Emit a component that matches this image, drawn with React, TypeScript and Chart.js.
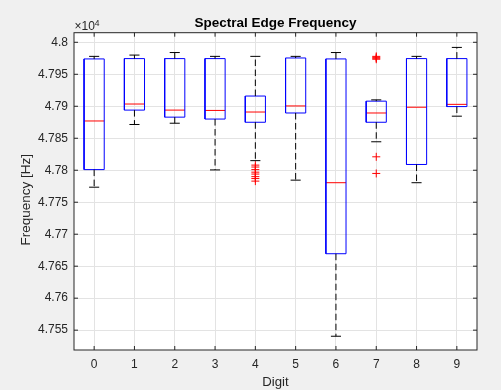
import React, { useEffect, useRef } from 'react';
import { Chart, registerables } from 'chart.js';

Chart.register(...registerables);

// ---- data ----
const digits = [0, 1, 2, 3, 4, 5, 6, 7, 8, 9];
const upperWhisker = [47978, 47980, 47984, 47978, 47978, 47978, 47984, 47910, 47978, 47992];
const q3 = [47974, 47974.5, 47974.5, 47974.5, 47916, 47975.5, 47974, 47908, 47974.5, 47974.5];
const medians = [47877, 47903.5, 47894, 47893.5, 47891, 47900.5, 47780.5, 47889.5, 47898.5, 47903];
const q1 = [47801, 47894, 47883, 47880, 47875, 47889.5, 47669.5, 47875, 47809, 47899.5];
const lowerWhisker = [47773.5, 47871.5, 47873.5, 47800.5, 47815, 47784.5, 47540.5, 47844.5, 47780.5, 47884.5];

const outlierDigit = [4, 4, 4, 4, 4, 4, 4, 4, 7, 7, 7, 7, 7, 7];
const outlierValue = [47808, 47805, 47801, 47797, 47794, 47790, 47787, 47783, 47978, 47976.5, 47975, 47973.5, 47821, 47795];

const yTickValues = [47550, 47600, 47650, 47700, 47750, 47800, 47850, 47900, 47950, 48000];
const yMin = 47519;
const yMax = 48015;

const titleText = 'Spectral Edge Frequency';
const xTitle = 'Digit';
const yTitle = 'Frequency [Hz]';

// ---- styling ----
const FONT = "'Liberation Sans', Arial, Helvetica, sans-serif";
const TEXT = '#262626';
const GRID = '#e3e3e3';
const BOX_HALF = 0.25;
const CAP_HALF = 0.125;

type P = { x: number; y: number | null };

function boxPoints(): P[] {
  const pts: P[] = [];
  digits.forEach((d, i) => {
    pts.push({ x: d - BOX_HALF, y: q1[i] }, { x: d + BOX_HALF, y: q1[i] }, { x: d + BOX_HALF, y: q3[i] },
      { x: d - BOX_HALF, y: q3[i] }, { x: d - BOX_HALF, y: q1[i] }, { x: d, y: null });
  });
  return pts;
}
function medianPoints(): P[] {
  const pts: P[] = [];
  digits.forEach((d, i) => {
    pts.push({ x: d - BOX_HALF, y: medians[i] }, { x: d + BOX_HALF, y: medians[i] }, { x: d, y: null });
  });
  return pts;
}
function whiskerPoints(): P[] {
  const pts: P[] = [];
  digits.forEach((d, i) => {
    pts.push({ x: d, y: q3[i] }, { x: d, y: upperWhisker[i] }, { x: d, y: null },
      { x: d, y: q1[i] }, { x: d, y: lowerWhisker[i] }, { x: d, y: null });
  });
  return pts;
}
function capPoints(): P[] {
  const pts: P[] = [];
  digits.forEach((d, i) => {
    pts.push({ x: d - CAP_HALF, y: upperWhisker[i] }, { x: d + CAP_HALF, y: upperWhisker[i] }, { x: d, y: null },
      { x: d - CAP_HALF, y: lowerWhisker[i] }, { x: d + CAP_HALF, y: lowerWhisker[i] }, { x: d, y: null });
  });
  return pts;
}

const fmtY = (v: number) => parseFloat((v / 1e4).toFixed(4)).toString();

const matlabAxes = {
  id: 'matlabAxes',
  beforeDraw(chart: any) {
    const { ctx, chartArea: a } = chart;
    ctx.save();
    ctx.fillStyle = '#ffffff';
    ctx.fillRect(a.left, a.top, a.right - a.left, a.bottom - a.top);
    ctx.restore();
  },
  afterDraw(chart: any) {
    const { ctx, chartArea: a, scales } = chart;
    ctx.save();
    ctx.strokeStyle = TEXT;
    ctx.lineWidth = 1;
    ctx.strokeRect(a.left, a.top, a.right - a.left, a.bottom - a.top);
    const tl = 4;
    ctx.beginPath();
    scales.x.ticks.forEach((t: any) => {
      const px = scales.x.getPixelForValue(t.value);
      ctx.moveTo(px, a.bottom); ctx.lineTo(px, a.bottom - tl);
      ctx.moveTo(px, a.top); ctx.lineTo(px, a.top + tl);
    });
    scales.y.ticks.forEach((t: any) => {
      const py = scales.y.getPixelForValue(t.value);
      ctx.moveTo(a.left, py); ctx.lineTo(a.left + tl, py);
      ctx.moveTo(a.right, py); ctx.lineTo(a.right - tl, py);
    });
    ctx.stroke();
    // exponent label
    ctx.fillStyle = TEXT;
    ctx.textAlign = 'left';
    ctx.textBaseline = 'alphabetic';
    ctx.font = `12px ${FONT}`;
    const base = '\u00d710';
    ctx.fillText(base, a.left + 0.5, a.top - 2.5);
    const w = ctx.measureText(base).width;
    ctx.font = `8.5px ${FONT}`;
    ctx.fillText('4', a.left + 0.5 + w, a.top - 6.5);
    // y axis label (MATLAB places it slightly below the axis centre here)
    ctx.font = `13.5px ${FONT}`;
    ctx.textAlign = 'center';
    ctx.textBaseline = 'middle';
    ctx.translate(26.4, (a.top + a.bottom) / 2 + 8.5);
    ctx.rotate(-Math.PI / 2);
    ctx.fillText(yTitle, 0, 0);
    ctx.restore();
  },
};

export default function App() {
  const ref = useRef<HTMLCanvasElement>(null);
  useEffect(() => {
    const lineDs = (label: string, data: P[], color: string, dash: number[] = []) => ({
      label, data, showLine: true, spanGaps: false, borderColor: color, borderWidth: 1,
      borderDash: dash, pointRadius: 0, fill: false,
    });
    const chart = new Chart(ref.current as HTMLCanvasElement, {
      type: 'scatter',
      data: {
        datasets: [
          lineDs('whiskers', whiskerPoints(), '#000000', [6.5, 3.5]) as any,
          lineDs('caps', capPoints(), '#000000') as any,
          lineDs('boxes', boxPoints(), '#0000ff') as any,
          lineDs('medians', medianPoints(), '#ff0000') as any,
          {
            label: 'outliers',
            data: outlierDigit.map((d, i) => ({ x: d, y: outlierValue[i] })),
            pointStyle: 'cross', pointRadius: 4, borderColor: '#ff0000', backgroundColor: '#ff0000',
            pointBorderWidth: 1, showLine: false,
          } as any,
        ],
      },
      options: {
        responsive: false,
        devicePixelRatio: 1,
        animation: false,
        events: [],
        layout: { padding: { left: 0, right: 24, top: 0, bottom: 0 } },
        plugins: {
          legend: { display: false },
          tooltip: { enabled: false },
          title: {
            display: true, text: titleText, fullSize: false, color: '#000000',
            font: { family: FONT, size: 13.5, weight: 'bold' },
            padding: { top: 15, bottom: 1.5 },
          },
        },
        scales: {
          x: {
            type: 'linear', min: -0.5, max: 9.5, offset: false,
            afterBuildTicks: (s: any) => { s.ticks = digits.map((v) => ({ value: v })); },
            afterFit: (s: any) => { s.height = 40; },
            ticks: { padding: 7.5, color: TEXT, font: { family: FONT, size: 12 }, callback: (v: any) => String(v) },
            grid: { color: GRID, drawTicks: false },
            border: { display: false },
            title: { display: true, text: xTitle, color: TEXT, font: { family: FONT, size: 13.2 }, padding: { top: 0, bottom: 0 } },
          },
          y: {
            type: 'linear', min: yMin, max: yMax,
            afterBuildTicks: (s: any) => { s.ticks = yTickValues.map((v) => ({ value: v })); },
            afterFit: (s: any) => { s.width = 74; },
            ticks: { padding: 6, color: TEXT, font: { family: FONT, size: 12 }, callback: (v: any) => fmtY(Number(v)) },
            grid: { color: GRID, drawTicks: false },
            border: { display: false },
            title: { display: false },
          },
        },
      } as any,
      plugins: [matlabAxes as any],
    });
    return () => chart.destroy();
  }, []);
  return (
    <div style={{ position: 'fixed', left: 0, top: 0, width: 501, height: 390, background: '#f0f0f0' }}>
      <canvas ref={ref} width={501} height={390} style={{ display: 'block', width: 501, height: 390 }} />
    </div>
  );
}
